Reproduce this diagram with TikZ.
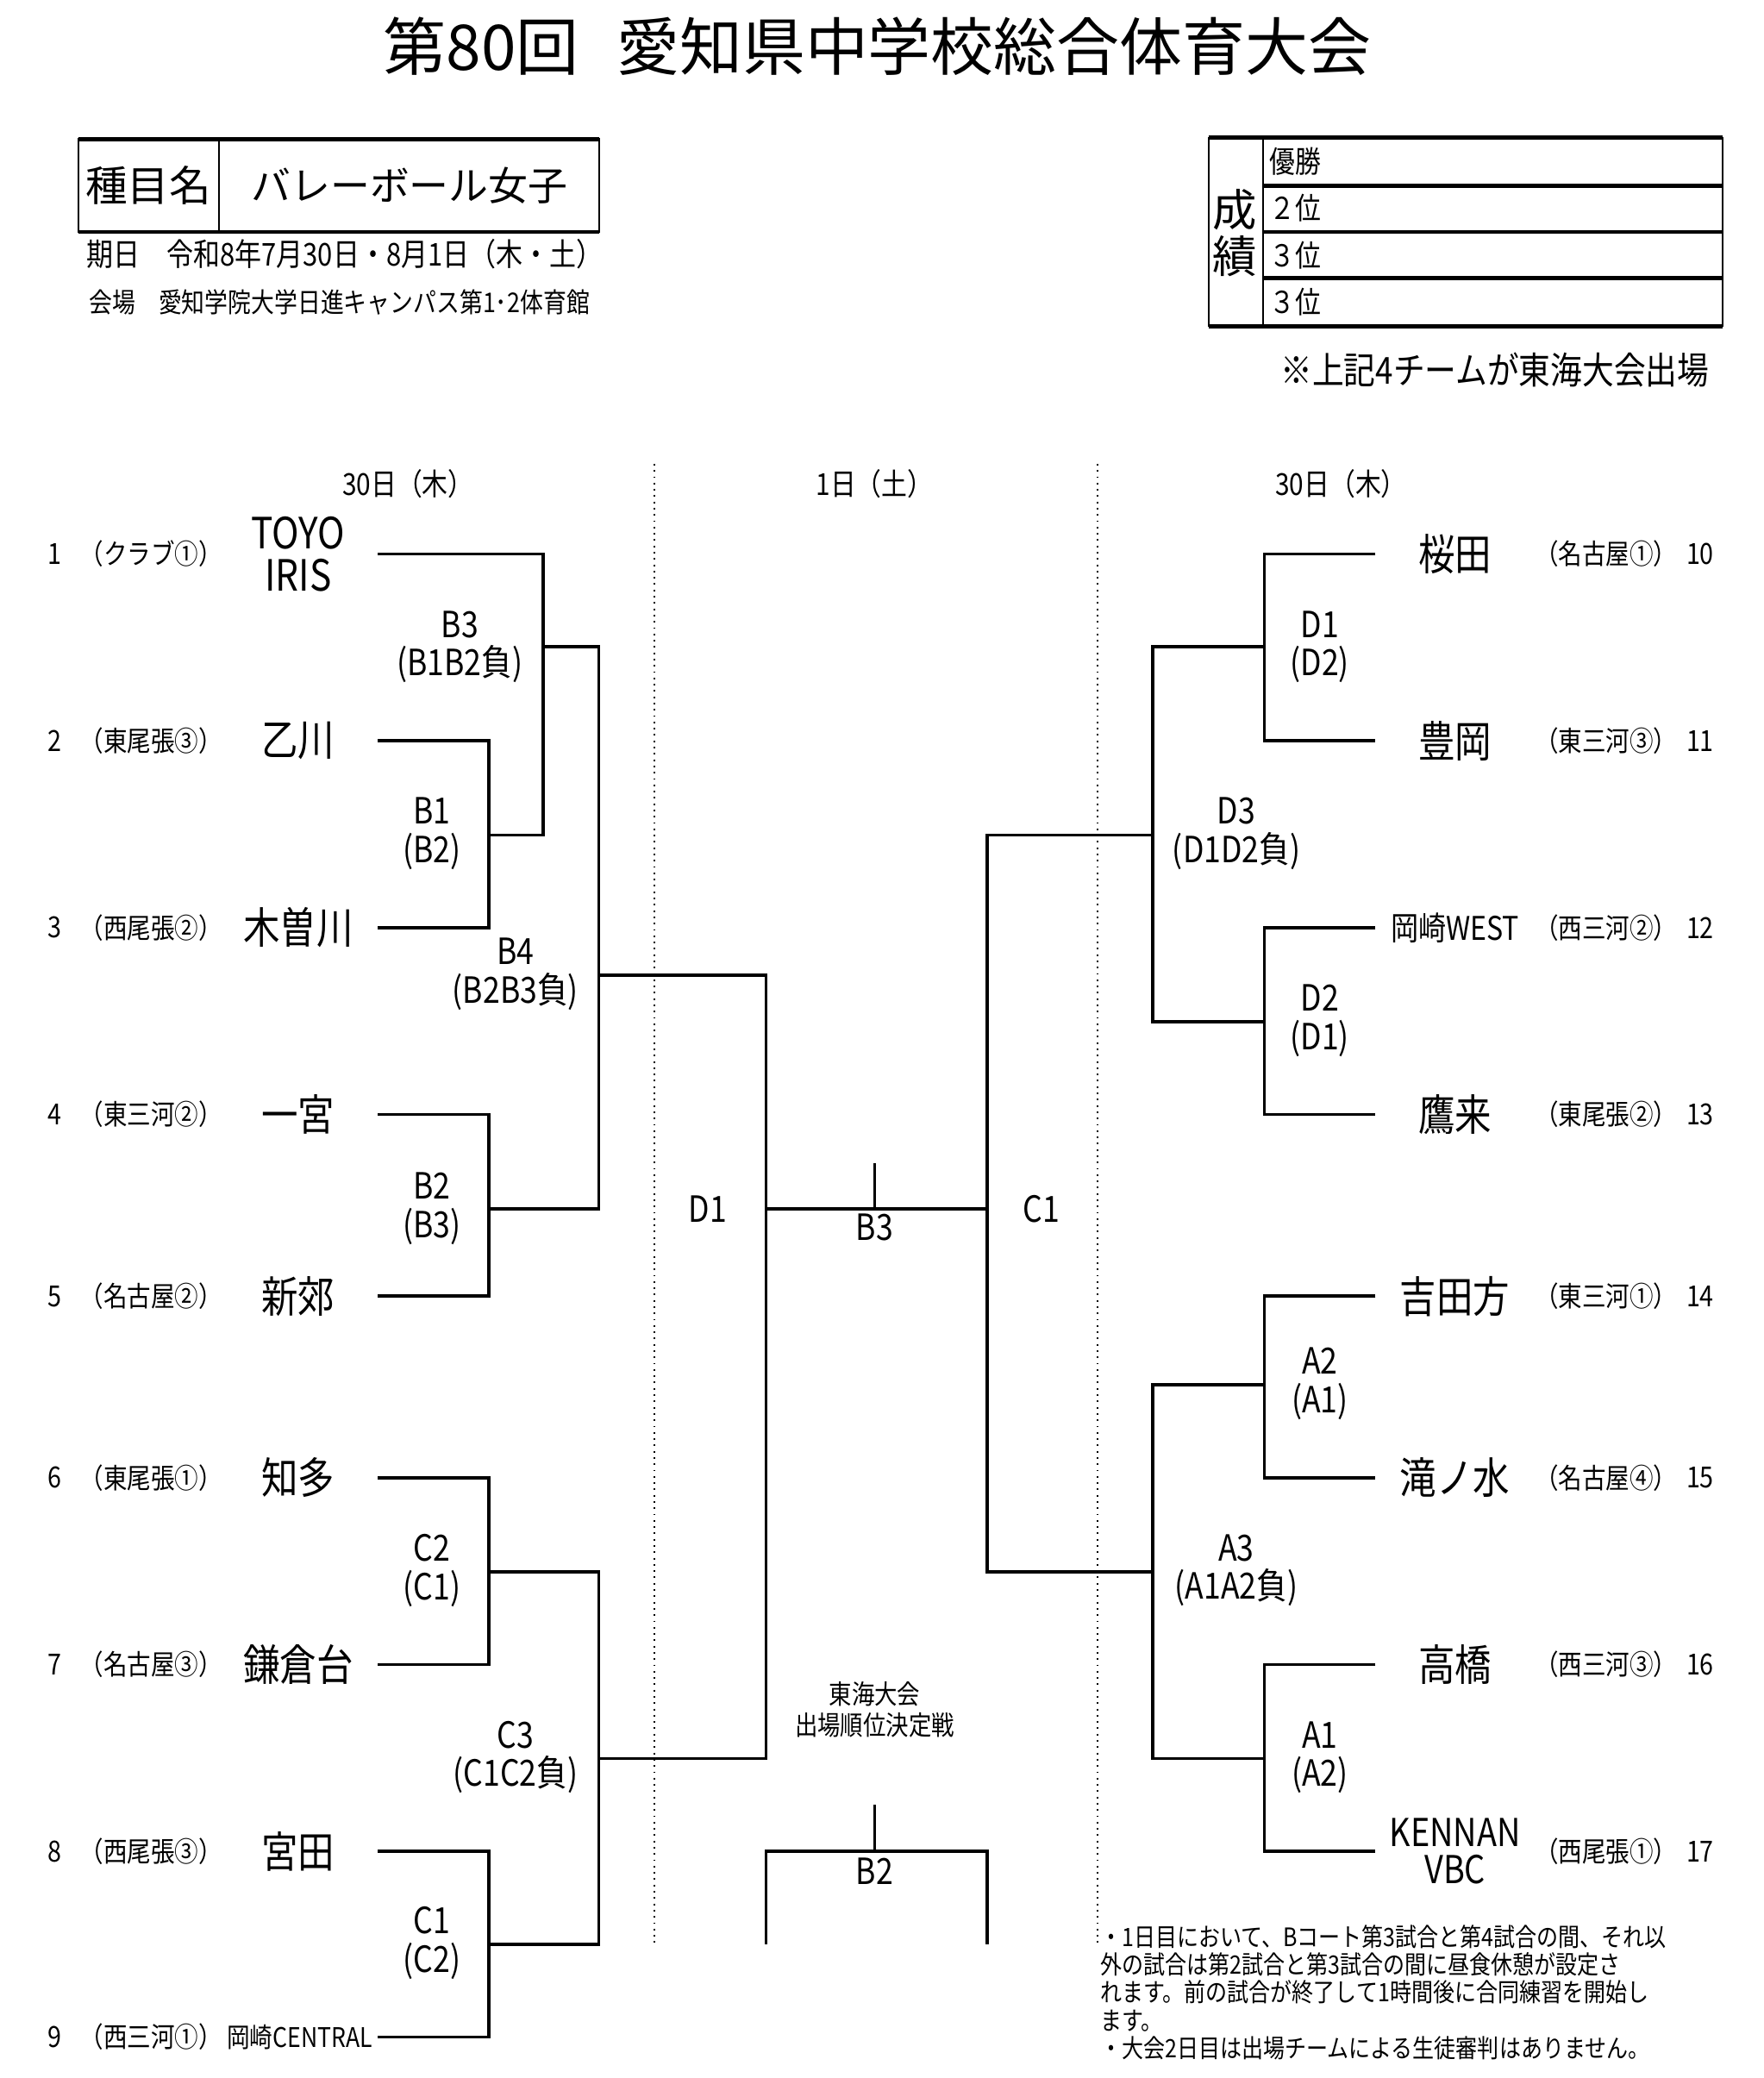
\documentclass[tikz,border=0pt]{standalone}
\usepackage{fontspec}
\setmainfont{Noto Sans CJK JP}
\newfontfamily\nfont[FakeStretch=0.85]{Noto Sans CJK JP}
\usepackage{tikz}

\tikzset{
  bk/.style={line width=1.3pt},
  guide/.style={dotted, line width=0.7pt},
  teamname/.style={font=\nfont\fontsize{18.5}{18.2}\selectfont, align=center},
  smallteam/.style={font=\nfont\fontsize{11.6}{13}\selectfont},
  region/.style={font=\nfont\fontsize{12}{13}\selectfont},
  numlab/.style={font=\nfont\fontsize{12.5}{14}\selectfont},
  match/.style={font=\nfont\fontsize{15.5}{16.5}\selectfont, align=center},
  daylab/.style={font=\nfont\fontsize{13}{14}\selectfont},
}

\begin{document}
\begin{tikzpicture}[x=0.02cm, y=-0.02cm]
	\useasboundingbox (0,0) rectangle (1331,1568);

	% titolo
	\node (title) at (662,35) {\fontsize{27}{30}\selectfont 第80回\hspace{0.6em}愛知県中学校総合体育大会};

	% riquadro sinistro
	\draw[line width=0.7pt] (59,105) rectangle (452,175);
	\draw[line width=1.8pt] (59,105) -- (452,105) (59,175) -- (452,175);
	\draw[line width=0.7pt] (165,105) -- (165,175);
	\node (shumoku) at (112,140) {\fontsize{18}{20}\selectfont 種目名};
	\node (event) at (309,140) {\fontsize{17}{20}\selectfont バレーボール女子};
	\node[anchor=west, inner sep=0] (kijitsu) at (65,192) {\nfont\fontsize{13.5}{15}\selectfont 期日　令和8年7月30日・8月1日（木・土）};
	\node[anchor=west, inner sep=0] (kaijo) at (67,228) {\nfont\fontsize{11.7}{13}\selectfont 会場　愛知学院大学日進キャンパス第1･2体育館};

	% riquadro destro
	\draw[line width=0.7pt] (912,104) rectangle (1300,246);
	\draw[line width=0.7pt] (953,104) -- (953,246);
	\draw[line width=1.8pt] (912,104) -- (1300,104) (953,140) -- (1300,140) (953,175) -- (1300,175) (953,210) -- (1300,210) (912,246) -- (1300,246);
	\node (sei) at (932,158) {\fontsize{19}{20}\selectfont 成};
	\node (seki) at (932,193) {\fontsize{19}{20}\selectfont 績};
	\node[anchor=west, inner sep=0] (rank1) at (958,122) {\nfont\fontsize{13}{14}\selectfont 優勝};
	\node[anchor=west, inner sep=0] (rank2) at (958,157) {\nfont\fontsize{13}{14}\selectfont ２位};
	\node[anchor=west, inner sep=0] (rank3) at (958,193) {\nfont\fontsize{13}{14}\selectfont ３位};
	\node[anchor=west, inner sep=0] (rank4) at (958,228) {\nfont\fontsize{13}{14}\selectfont ３位};
	\node[anchor=east, inner sep=0] (tokai) at (1290,279) {\nfont\fontsize{16}{17}\selectfont ※上記4チームが東海大会出場};

	% giorni
	\node[daylab] (day1) at (308,365) {30日（木）};
	\node[daylab] (day2) at (660,365) {1日（土）};
	\node[daylab] (day3) at (1012,365) {30日（木）};
	\coordinate (g1t) at (494,350); \coordinate (g1b) at (494,1468);
	\coordinate (g2t) at (828,350); \coordinate (g2b) at (828,1468);
	\draw[guide] (g1t) -- (g1b);
	\draw[guide] (g2t) -- (g2b);

	% squadre a sinistra
	\node[numlab] (n1) at (41,418) {1};
	\node[numlab] (n2) at (41,559) {2};
	\node[numlab] (n3) at (41,700) {3};
	\node[numlab] (n4) at (41,841) {4};
	\node[numlab] (n5) at (41,978) {5};
	\node[numlab] (n6) at (41,1115) {6};
	\node[numlab] (n7) at (41,1256) {7};
	\node[numlab] (n8) at (41,1397) {8};
	\node[numlab] (n9) at (41,1537) {9};
	\node[region] (r1) at (114,418) {（クラブ①）};
	\node[region] (r2) at (114,559) {（東尾張③）};
	\node[region] (r3) at (114,700) {（西尾張②）};
	\node[region] (r4) at (114,841) {（東三河②）};
	\node[region] (r5) at (114,978) {（名古屋②）};
	\node[region] (r6) at (114,1115) {（東尾張①）};
	\node[region] (r7) at (114,1256) {（名古屋③）};
	\node[region] (r8) at (114,1397) {（西尾張③）};
	\node[region] (r9) at (114,1537) {（西三河①）};
	\node[teamname] (t1) at (225,418) {TOYO\\IRIS};
	\node[teamname] (t2) at (225,559) {乙川};
	\node[teamname] (t3) at (225,700) {木曽川};
	\node[teamname] (t4) at (225,841) {一宮};
	\node[teamname] (t5) at (225,978) {新郊};
	\node[teamname] (t6) at (225,1115) {知多};
	\node[teamname] (t7) at (225,1256) {鎌倉台};
	\node[teamname] (t8) at (225,1397) {宮田};
	\node[smallteam] (t9) at (226,1537) {岡崎CENTRAL};

	% squadre a destra
	\node[teamname] (t10) at (1098,418) {桜田};
	\node[teamname] (t11) at (1098,559) {豊岡};
	\node[smallteam, font=\nfont\fontsize{14}{15}\selectfont] (t12) at (1098,700) {岡崎WEST};
	\node[teamname] (t13) at (1098,841) {鷹来};
	\node[teamname] (t14) at (1098,978) {吉田方};
	\node[teamname] (t15) at (1098,1115) {滝ノ水};
	\node[teamname] (t16) at (1098,1256) {高橋};
	\node[teamname, font=\nfont\fontsize{16.5}{16}\selectfont] (t17) at (1098,1397) {KENNAN\\VBC};
	\node[region] (r10) at (1212,418) {（名古屋①）};
	\node[region] (r11) at (1212,559) {（東三河③）};
	\node[region] (r12) at (1212,700) {（西三河②）};
	\node[region] (r13) at (1212,841) {（東尾張②）};
	\node[region] (r14) at (1212,978) {（東三河①）};
	\node[region] (r15) at (1212,1115) {（名古屋④）};
	\node[region] (r16) at (1212,1256) {（西三河③）};
	\node[region] (r17) at (1212,1397) {（西尾張①）};
	\node[numlab] (n10) at (1283,418) {10};
	\node[numlab] (n11) at (1283,559) {11};
	\node[numlab] (n12) at (1283,700) {12};
	\node[numlab] (n13) at (1283,841) {13};
	\node[numlab] (n14) at (1283,978) {14};
	\node[numlab] (n15) at (1283,1115) {15};
	\node[numlab] (n16) at (1283,1256) {16};
	\node[numlab] (n17) at (1283,1397) {17};

	% estremi delle linee
	\coordinate (L1) at (285,418); \coordinate (L2) at (285,559); \coordinate (L3) at (285,700);
	\coordinate (L4) at (285,841); \coordinate (L5) at (285,978); \coordinate (L6) at (285,1115);
	\coordinate (L7) at (285,1256); \coordinate (L8) at (285,1397); \coordinate (L9) at (285,1537);
	\coordinate (R10) at (1038,418); \coordinate (R11) at (1038,559); \coordinate (R12) at (1038,700);
	\coordinate (R13) at (1038,841); \coordinate (R14) at (1038,978); \coordinate (R15) at (1038,1115);
	\coordinate (R16) at (1038,1256); \coordinate (R17) at (1038,1397);

	% incroci
	\coordinate (b1) at (369,630); \coordinate (b2) at (369,912);
	\coordinate (c2) at (369,1186); \coordinate (c1) at (369,1467);
	\coordinate (b3) at (410,488); \coordinate (b4) at (452,736);
	\coordinate (c3) at (452,1327); \coordinate (d1) at (578,912);
	\coordinate (fin) at (660,912); \coordinate (fintop) at (660,878);
	\coordinate (rc1) at (745,912);
	\coordinate (d3) at (870,630); \coordinate (a3) at (870,1186);
	\coordinate (rd1) at (954,488); \coordinate (d2) at (954,771);
	\coordinate (a2) at (954,1045); \coordinate (a1) at (954,1327);
	\coordinate (tp1) at (578,1467); \coordinate (tp2) at (745,1467);
	\coordinate (tpm) at (660,1397); \coordinate (tptop) at (660,1362);

	% tabellone sinistro
	\draw[bk] (L2) -| (b1) |- (L3);
	\draw[bk] (L1) -| (b3) |- (b1);
	\draw[bk] (b3) -| (b4) |- (b2);
	\draw[bk] (L4) -| (b2) |- (L5);
	\draw[bk] (L6) -| (c2) |- (L7);
	\draw[bk] (L8) -| (c1) |- (L9);
	\draw[bk] (c2) -| (c3) |- (c1);
	\draw[bk] (b4) -| (d1) |- (c3);

	% centro
	\draw[bk] (d1) -- (rc1);
	\draw[bk] (fin) -- (fintop);
	\draw[bk] (tp1) |- (tpm) -| (tp2);
	\draw[bk] (tpm) -- (tptop);

	% tabellone destro
	\draw[bk] (d3) -| (rc1) |- (a3);
	\draw[bk] (rd1) -| (d3) |- (d2);
	\draw[bk] (R10) -| (rd1) |- (R11);
	\draw[bk] (R12) -| (d2) |- (R13);
	\draw[bk] (a2) -| (a3) |- (a1);
	\draw[bk] (R14) -| (a2) |- (R15);
	\draw[bk] (R16) -| (a1) |- (R17);

	% etichette delle partite
	\node[match] (mB3) at (347,488) {B3\\(B1B2負)};
	\node[match] (mB1) at (326,629) {B1\\(B2)};
	\node[match] (mB4) at (389,735) {B4\\(B2B3負)};
	\node[match] (mB2) at (326,912) {B2\\(B3)};
	\node[match] (mC2) at (326,1185) {C2\\(C1)};
	\node[match] (mC3) at (389,1326) {C3\\(C1C2負)};
	\node[match] (mC1) at (326,1466) {C1\\(C2)};
	\node[match] (mD1L) at (534,912) {D1};
	\node[match] (mC1R) at (786,912) {C1};
	\node[match] (fB3) at (660,926) {B3};
	\node[match] (fB2) at (660,1412) {B2};
	\node[font=\nfont\fontsize{11.5}{13}\selectfont, align=center] (kettei) at (660,1290) {東海大会\\出場順位決定戦};
	\node[match] (mD1) at (996,488) {D1\\(D2)};
	\node[match] (mD3) at (933,629) {D3\\(D1D2負)};
	\node[match] (mD2) at (996,770) {D2\\(D1)};
	\node[match] (mA2) at (996,1044) {A2\\(A1)};
	\node[match] (mA3) at (933,1185) {A3\\(A1A2負)};
	\node[match] (mA1) at (996,1326) {A1\\(A2)};

	% note
	\node[anchor=north west, inner sep=0, align=left, font=\nfont\fontsize{10.9}{12}\selectfont] (notes) at (830,1452) {・1日目において、Bコート第3試合と第4試合の間、それ以\\外の試合は第2試合と第3試合の間に昼食休憩が設定さ\\れます。前の試合が終了して1時間後に合同練習を開始し\\ます。\\・大会2日目は出場チームによる生徒審判はありません。};
\end{tikzpicture}
\end{document}
